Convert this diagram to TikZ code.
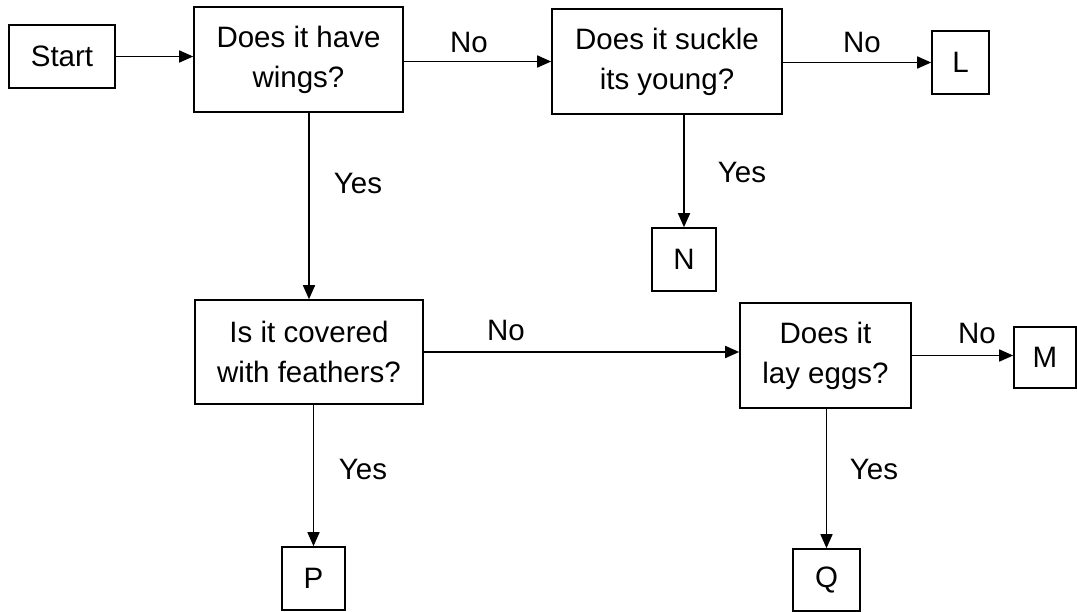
\documentclass[tikz,border=0pt]{standalone}
\usepackage{fontspec}
\setmainfont{Liberation Sans}
\usetikzlibrary{arrows.meta}
\tikzstyle{box}=[rectangle, draw=black, line width=1.6pt, inner sep=0pt,
  align=center, font=\fontsize{29.5}{40}\selectfont]
\tikzstyle{arrow}=[-{Triangle[length=14pt,width=12pt]}, line width=1.6pt]

\begin{document}
\begin{tikzpicture}[x=1pt,y=-1pt,
  lbl/.style={inner sep=0pt,font=\fontsize{29.5}{40}\selectfont}]
\useasboundingbox (0,0) rectangle (1077,612);
\node[box,minimum width=106pt,minimum height=63pt] (start) at (62,56.5) {Start};
\node[box,minimum width=209pt,minimum height=105pt] (wings) at (298.5,59.5) {Does it have\\wings?};
\node[box,minimum width=230pt,minimum height=105pt] (suckle) at (667,61.5) {Does it suckle\\its young?};
\node[box,minimum width=57pt,minimum height=63pt] (l) at (960.5,62.5) {L};
\node[box,minimum width=64pt,minimum height=63pt] (n) at (684,259.5) {N};
\node[box,minimum width=228pt,minimum height=104pt] (covered) at (309,352) {Is it covered\\with feathers?};
\node[box,minimum width=171pt,minimum height=105pt] (eggs) at (825.5,355.5) {Does it\\lay eggs?};
\node[box,minimum width=62pt,minimum height=61pt] (m) at (1045,357.5) {M};
\node[box,minimum width=63pt,minimum height=63pt] (p) at (313.5,578.5) {P};
\node[box,minimum width=67pt,minimum height=62pt] (q) at (826.5,580) {Q};
% answers
\node[lbl] (wingsno) at (469,42) {No};
\node[lbl] (wingsyes) at (358,183) {Yes};
\node[lbl] (suckleno) at (862,42) {No};
\node[lbl] (suckleyes) at (742,172) {Yes};
\node[lbl] (coveredno) at (506,330) {No};
\node[lbl] (coveredyes) at (363,469) {Yes};
\node[lbl] (eggsno) at (977,333) {No};
\node[lbl] (eggsyes) at (874,469) {Yes};
\draw[arrow] (start.east) -- (start.east -| wings.west);
\draw[arrow] (suckle.west -| wings.east) -- (suckle.west);
\draw[arrow] (suckle.east |- l) -- (l.west);
\draw[arrow] (n.north |- suckle.south) -- (n.north);
\draw[arrow] (covered.north |- wings.south) -- (covered.north);
\draw[arrow] (covered.east) -- (covered.east -| eggs.west);
\draw[arrow] (eggs.east) -- (eggs.east -| m.west);
\draw[arrow] (p.north |- covered.south) -- (p.north);
\draw[arrow] (q.north |- eggs.south) -- (q.north);
\end{tikzpicture}
\end{document}
